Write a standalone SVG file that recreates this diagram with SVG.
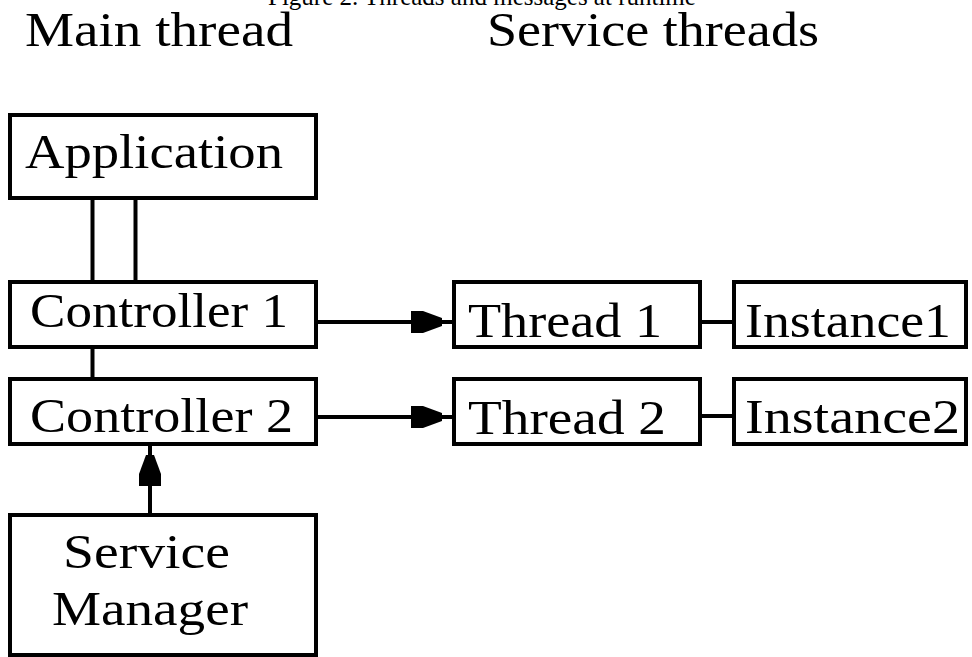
<svg xmlns="http://www.w3.org/2000/svg" xmlns:xlink="http://www.w3.org/1999/xlink" width="972" height="657" viewBox="0 0 972 657">
<style>
.box{fill:#fff;stroke:#000;stroke-width:4}
.ln{fill:none;stroke:#000;stroke-width:4}
.lbl{font-family:"Liberation Serif","Times New Roman",serif;font-size:48px;fill:#000}
.head{font-family:"Liberation Serif","Times New Roman",serif;font-size:49px;fill:#000}
.title{font-family:"Liberation Serif","Times New Roman",serif;font-size:25px;fill:#000}
</style>
<defs>
<path id="ah" d="M-31,-11 L-19,-11 L0,-4 L0,4 L-19,11 L-31,11 Z" fill="#000"/>
</defs>
<rect width="972" height="657" fill="#fff"/>
<text class="title" x="268" y="5">Figure 2. Threads and messages at runtime</text>
<text class="head" x="25" y="46" textLength="268" lengthAdjust="spacingAndGlyphs">Main thread</text>
<text class="head" x="487" y="46" textLength="332" lengthAdjust="spacingAndGlyphs">Service threads</text>
<g id="connectors">
<line class="ln" x1="92.5" y1="198" x2="92.5" y2="282"/>
<line class="ln" x1="135.5" y1="198" x2="135.5" y2="282"/>
<line class="ln" x1="92.5" y1="347" x2="92.5" y2="379"/>
<line class="ln" x1="316" y1="322" x2="454" y2="322"/>
<use xlink:href="#ah" href="#ah" transform="translate(442,322)"/>
<line class="ln" x1="316" y1="417" x2="454" y2="417"/>
<use xlink:href="#ah" href="#ah" transform="translate(442,417)"/>
<line class="ln" x1="700" y1="322" x2="734" y2="322"/>
<line class="ln" x1="700" y1="416" x2="734" y2="416"/>
<line class="ln" x1="150" y1="515" x2="150" y2="444"/>
<use xlink:href="#ah" href="#ah" transform="translate(150,455) rotate(-90)"/>
</g>
<g id="application">
<rect class="box" x="10" y="115" width="306" height="83"/>
<text class="lbl" x="25" y="168" textLength="258" lengthAdjust="spacingAndGlyphs">Application</text>
</g>
<g id="controller1">
<rect class="box" x="10" y="282" width="306" height="65"/>
<text class="lbl" x="30" y="327" textLength="258" lengthAdjust="spacingAndGlyphs">Controller 1</text>
</g>
<g id="controller2">
<rect class="box" x="10" y="379" width="306" height="65"/>
<text class="lbl" x="30" y="432" textLength="263" lengthAdjust="spacingAndGlyphs">Controller 2</text>
</g>
<g id="servicemanager">
<rect class="box" x="10" y="515" width="306" height="140"/>
<text class="lbl" x="63" y="568" textLength="167" lengthAdjust="spacingAndGlyphs">Service</text>
<text class="lbl" x="52" y="625" textLength="196" lengthAdjust="spacingAndGlyphs">Manager</text>
</g>
<g id="thread1">
<rect class="box" x="454" y="282" width="246" height="65"/>
<text class="lbl" x="468" y="337" textLength="194" lengthAdjust="spacingAndGlyphs">Thread 1</text>
</g>
<g id="thread2">
<rect class="box" x="454" y="379" width="246" height="65"/>
<text class="lbl" x="468" y="434" textLength="198" lengthAdjust="spacingAndGlyphs">Thread 2</text>
</g>
<g id="instance1">
<rect class="box" x="734" y="282" width="232" height="65"/>
<text class="lbl" x="745" y="337" textLength="206" lengthAdjust="spacingAndGlyphs">Instance1</text>
</g>
<g id="instance2">
<rect class="box" x="734" y="379" width="232" height="65"/>
<text class="lbl" x="745" y="433" textLength="215" lengthAdjust="spacingAndGlyphs">Instance2</text>
</g>
</svg>
